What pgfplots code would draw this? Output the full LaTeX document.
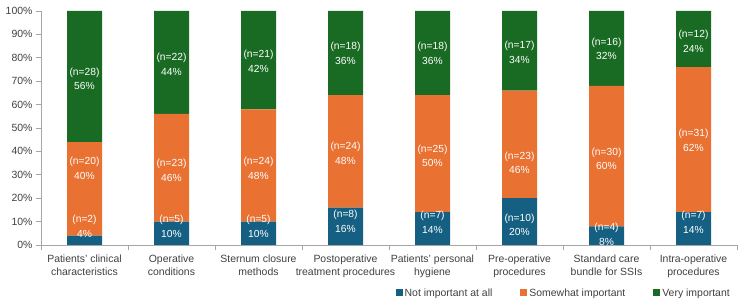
\documentclass[border=0pt]{standalone}
\usepackage{fontspec}
\setmainfont{Liberation Sans}
\usepackage{pgfplots}
\usepackage{pgfplotstable}
\pgfplotsset{compat=1.18}

\definecolor{cNot}{HTML}{156082}
\definecolor{cSome}{HTML}{E97132}
\definecolor{cVery}{HTML}{196B24}
\definecolor{txt}{HTML}{404040}
\definecolor{axisgray}{HTML}{A6A6A6}

% Share of respondents (%) per factor
\pgfplotstableread{
x not some very
1 4  40 56
2 10 46 44
3 10 48 42
4 16 48 36
5 14 50 36
6 20 46 34
7 8  60 32
8 14 62 24
}\shares

% Label positions (ly, in %) and label text as count/percent
\pgfplotstableread{
x ly   lab
1 8.0  2/4
2 7.9  5/10
3 8.0  5/10
4 10.2 8/16
5 9.7  7/14
6 8.6  10/20
7 4.5  4/8
8 9.7  7/14
}\labnot
\pgfplotstableread{
x ly   lab
1 32.7 20/40
2 32.0 23/46
3 32.7 24/48
4 39.2 24/48
5 38.1 25/50
6 35.2 23/46
7 36.9 30/60
8 44.7 31/62
}\labsome
\pgfplotstableread{
x ly   lab
1 71.0 28/56
2 77.2 22/44
3 78.5 21/42
4 81.9 18/36
5 82.0 18/36
6 82.3 17/34
7 83.9 16/32
8 87.1 12/24
}\labvery

\def\splitlab#1/#2\relax{(n=#1)\\#2\%}

\pgfplotsset{
  frame/.style={
    at={(41bp,61bp)}, anchor=south west,
    scale only axis, width=696bp, height=234bp,
    xmin=0.5, xmax=8.5, ymin=0, ymax=100,
  },
  seglabels/.style={
    only marks,
    mark=*, mark size=0pt, mark options={draw=none, fill=none},
    nodes near coords={\expandafter\splitlab\pgfplotspointmeta\relax},
    point meta=explicit symbolic,
    every node near coord/.style={anchor=center, align=center, text=white,
      font=\fontsize{10.3}{14.5}\selectfont, inner sep=0pt},
  },
}

\begin{document}
\begin{tikzpicture}
\path (0,0) rectangle (750bp,306bp);
\begin{axis}[
  frame,
  ybar stacked, bar width=35bp,
  axis x line*=bottom, axis y line*=left,
  axis line style={axisgray, line width=0.8pt},
  tick style={axisgray, line width=0.8pt},
  tick align=outside, major tick length=5bp,
  ytick={0,10,...,100},
  yticklabels={0\%,10\%,20\%,30\%,40\%,50\%,60\%,70\%,80\%,90\%,100\%},
  xtick={0.5,1.5,2.5,3.5,4.5,5.5,6.5,7.5,8.5},
  xticklabels={},
  extra x ticks={1,2,3,4,5,6,7,8},
  extra x tick labels={{Patients' clinical\\characteristics},{Operative\\conditions},{Sternum closure\\methods},{Postoperative\\treatment procedures},{Patients' personal\\hygiene},{Pre-operative\\procedures},{Standard care\\bundle for SSIs},{Intra-operative\\procedures}},
  extra x tick style={major tick length=0pt, xticklabel style={align=center, anchor=north, yshift=-6bp}},
  every tick label/.append style={font=\fontsize{10.5}{13}\selectfont, text=txt},
  legend image code/.code={\fill[#1] (0bp,-3.5bp) rectangle (7bp,3.5bp);},
  legend style={at={(0.751,-0.205)}, anchor=center, legend columns=3,
    draw=none, fill=none, font=\fontsize{10.5}{13}\selectfont, text=txt,
    /tikz/every even column/.append style={column sep=26bp}},
  legend cell align=left,
]
\addplot[fill=cNot, draw=none] table[x=x, y=not]{\shares};
\addplot[fill=cSome, draw=none] table[x=x, y=some]{\shares};
\addplot[fill=cVery, draw=none] table[x=x, y=very]{\shares};
\legend{Not important at all, Somewhat important, Very important}
\end{axis}

% Segment labels on an overlay axis with the same frame (no stacking)
\begin{axis}[frame, hide axis]
\addplot[seglabels] table[x=x, y=ly, meta=lab]{\labnot};
\addplot[seglabels] table[x=x, y=ly, meta=lab]{\labsome};
\addplot[seglabels] table[x=x, y=ly, meta=lab]{\labvery};
\end{axis}
\end{tikzpicture}
\end{document}
